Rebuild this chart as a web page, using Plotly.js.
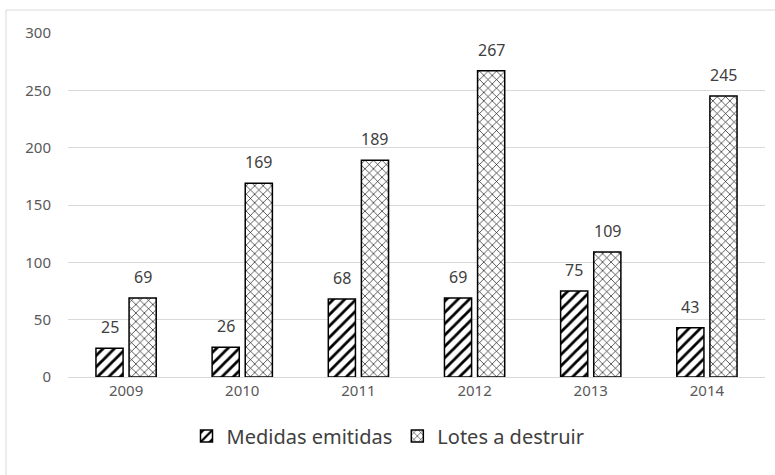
<!DOCTYPE html>
<html>
<head>
<meta charset="utf-8">
<script src="https://cdn.plot.ly/plotly-3.0.1.min.js"></script>
<style>html,body{margin:0;padding:0;background:#fff}#chart{width:775px;height:475px}</style>
</head>
<body>
<div id="chart"></div>
<script>
const years = ["2009", "2010", "2011", "2012", "2013", "2014"];
const medidasEmitidas = [25, 26, 68, 69, 75, 43];
const lotesDestruir = [69, 169, 189, 267, 109, 245];
const seriesNames = ["Medidas emitidas", "Lotes a destruir"];

const font = "Noto Sans, Open Sans, sans-serif";
const traces = [
  {
    type: "bar", name: seriesNames[0], x: years, y: medidasEmitidas,
    marker: {color: "#ffffff", line: {color: "#000000", width: 1.5},
      pattern: {shape: "/", fgcolor: "#000000", bgcolor: "#ffffff", size: 8, solidity: 0.35}}
  },
  {
    type: "bar", name: seriesNames[1], x: years, y: lotesDestruir,
    marker: {color: "#ffffff", line: {color: "#000000", width: 1.5},
      pattern: {shape: "x", fgcolor: "#000000", bgcolor: "#ffffff", size: 6, solidity: 0.2}}
  }
];

const L = 68, R = 10, T = 33, B = 98;
const pw = 775 - L - R, ph = 475 - T - B;
const barOffset = 16.5;
const annotations = [];
[medidasEmitidas, lotesDestruir].forEach((vals, s) => {
  vals.forEach((v, i) => {
    annotations.push({x: i, y: v, xref: "x", yref: "y", text: String(v),
      showarrow: false, yanchor: "bottom", xanchor: "center",
      xshift: s === 0 ? -barOffset : barOffset, yshift: 8,
      font: {size: 16, color: "#404040", family: font}});
  });
});

const layout = {
  width: 775, height: 475,
  margin: {l: L, r: R, t: T, b: B},
  paper_bgcolor: "#ffffff", plot_bgcolor: "#ffffff",
  font: {family: font, color: "#595959", size: 15},
  barmode: "group", bargap: 0.43, bargroupgap: 0.18,
  showlegend: true,
  legend: {orientation: "h", x: (388 - L) / pw, xanchor: "center", y: -0.115, yanchor: "top",
    font: {size: 20, color: "#404040", family: font}, itemwidth: 30},
  xaxis: {type: "category", showgrid: false, showline: true, linecolor: "#d9d9d9", linewidth: 1,
    ticks: "", tickfont: {size: 15, color: "#595959"}, fixedrange: true},
  yaxis: {range: [0, 300], dtick: 50, showgrid: true, gridcolor: "#d9d9d9", gridwidth: 1,
    zeroline: false, showline: false, ticks: "", ticklabelstandoff: 16,
    tickfont: {size: 15, color: "#595959"}, fixedrange: true},
  annotations: annotations,
  shapes: [{type: "rect", xref: "paper", yref: "paper",
    x0: (6 - L) / pw, x1: (800 - L) / pw, y0: -(500 - T - ph) / ph, y1: 1 + (T - 10) / ph,
    line: {color: "#d9d9d9", width: 1}, fillcolor: "rgba(0,0,0,0)", layer: "below"}]
};
Plotly.newPlot("chart", traces, layout, {displayModeBar: false, staticPlot: true});
</script>
</body>
</html>
